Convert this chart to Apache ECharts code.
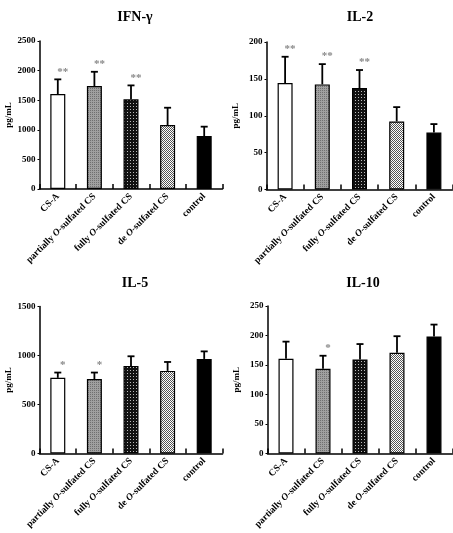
<!DOCTYPE html>
<html><head><meta charset="utf-8">
<script src="https://cdn.jsdelivr.net/npm/echarts@6/dist/echarts.min.js"></script>
<style>html,body{margin:0;padding:0;background:#fff}#c{width:453px;height:533px}</style>
</head><body><div id="c"></div>
<script>
const categories = ['CS-A','partially O-sulfated CS','fully O-sulfated CS','de O-sulfated CS','control'];
const panelTitles = ['IFN-γ','IL-2','IL-5','IL-10'];
const ifnMean = [1605,1740,1515,1080,895];
const ifnSD   = [247,240,235,293,158];
const ifnStars = ['**','**','**','',''];
const il2Mean = [144.5,142.5,137.5,92.3,77.3];
const il2SD   = [35.5,27.5,24.5,19.4,11.4];
const il2Stars = ['**','**','**','',''];
const il5Mean = [772,759,894,843,965];
const il5SD   = [54,67,98,91,77];
const il5Stars = ['*','*','','',''];
const il10Mean = [160.6,143.7,159.5,170.8,198.5];
const il10SD   = [29,22,26,28,20];
const il10Stars = ['','*','','',''];
const yMax = [2500,200,1500,250];
const yInterval = [500,50,500,50];

function pat(size, draw){
  const c=document.createElement('canvas'); c.width=size; c.height=size;
  const g=c.getContext('2d'); draw(g); return {image:c, repeat:'repeat'};
}
const fills = [
  '#ffffff',
  pat(2,g=>{g.fillStyle='#a0a0a0';g.fillRect(0,0,2,2);g.fillStyle='#707070';g.fillRect(0,0,1,1);}),
  pat(3,g=>{g.fillStyle='#111';g.fillRect(0,0,3,3);g.fillStyle='#bbb';g.fillRect(1,1,1,1);}),
  pat(2,g=>{g.fillStyle='#ffffff';g.fillRect(0,0,2,2);g.fillStyle='#555';g.fillRect(0,0,1,1);g.fillRect(1,1,1,1);}),
  '#000000'
];

const grids = [
  {left:39.5, top:41, width:183, height:148},
  {left:266.5, top:42, width:186, height:147.5},
  {left:39.5, top:306.5, width:183, height:147},
  {left:267.5, top:306, width:185, height:147.5}
];
const titlePos = [[130,5],[355,5],[130,271],[358,271]];
const means = [ifnMean, il2Mean, il5Mean, il10Mean];
const sds = [ifnSD, il2SD, il5SD, il10SD];
const stars = [ifnStars, il2Stars, il5Stars, il10Stars];

const serif = '"Liberation Serif","Times New Roman",serif';

const option = {
  animation:false,
  title: panelTitles.map((t,i)=>({text:t, left:titlePos[i][0], top:titlePos[i][1], textAlign:'center',
    textStyle:{fontFamily:serif, fontWeight:'bold', fontSize:14, color:'#000'}})),
  grid: grids,
  xAxis: grids.map((g,i)=>({type:'category', gridIndex:i, data:categories,
    axisLine:{lineStyle:{color:'#000', width:1.5}},
    axisTick:{show:true, inside:true, length:5, lineStyle:{color:'#000', width:1.5}},
    axisLabel:{interval:0, rotate:45, margin:6, color:'#000', fontFamily:serif, fontWeight:'bold', fontSize:9.5,
      formatter:(v)=>{ if(v.indexOf('O-')>=0){ const k=v.indexOf('O-'); return '{n|'+v.slice(0,k)+'}{i|O}{n|'+v.slice(k+1)+'}'; } return '{n|'+v+'}'; },
      rich:{n:{fontFamily:serif,fontWeight:'bold',fontSize:9.5,color:'#000'}, i:{fontFamily:serif,fontWeight:'bold',fontStyle:'italic',fontSize:9.5,color:'#000'}}}
  })),
  yAxis: grids.map((g,i)=>({type:'value', gridIndex:i, min:0, max:yMax[i], interval:yInterval[i],
    name:'pg/mL', nameLocation:'middle', nameGap:26, nameRotate:90,
    nameTextStyle:{fontFamily:serif, fontWeight:'bold', fontSize:9, color:'#000'},
    axisLine:{show:true, lineStyle:{color:'#000', width:1.5}},
    axisTick:{show:true, length:2, lineStyle:{color:'#000'}},
    splitLine:{show:false},
    axisLabel:{margin:4, color:'#000', fontFamily:serif, fontWeight:'bold', fontSize:9, formatter:(v)=>String(v)}
  })),
  series: []
};

means.forEach((m,i)=>{
  option.series.push({type:'bar', xAxisIndex:i, yAxisIndex:i, barWidth:15,
    data: m.map((v,k)=>({value:v, itemStyle:{color:fills[k], borderColor:'#000', borderWidth:1.2}}))});
  option.series.push({type:'custom', xAxisIndex:i, yAxisIndex:i, z:5,
    data: m.map((v,k)=>[k, v, v+sds[i][k]]),
    renderItem:(params, api)=>{
      const k=api.value(0);
      const p0=api.coord([k, api.value(1)]);
      const p1=api.coord([k, api.value(2)]);
      const st=stars[i][k];
      const ch=[
        {type:'line', shape:{x1:p0[0],y1:p0[1],x2:p1[0],y2:p1[1]}, style:{stroke:'#000', lineWidth:1.8}},
        {type:'line', shape:{x1:p1[0]-3.5,y1:p1[1],x2:p1[0]+3.5,y2:p1[1]}, style:{stroke:'#000', lineWidth:1.8}}
      ];
      if(st){ ch.push({type:'text', style:{text:st, x:p1[0]+5, y:p1[1]-2, align:'center', verticalAlign:'bottom',
        fill:'#888', font:'bold 11px '+serif}}); }
      return {type:'group', children:ch};
    }});
});

const chart = echarts.init(document.getElementById('c'), null, {renderer:'canvas'});
chart.setOption(option);
</script></body></html>
